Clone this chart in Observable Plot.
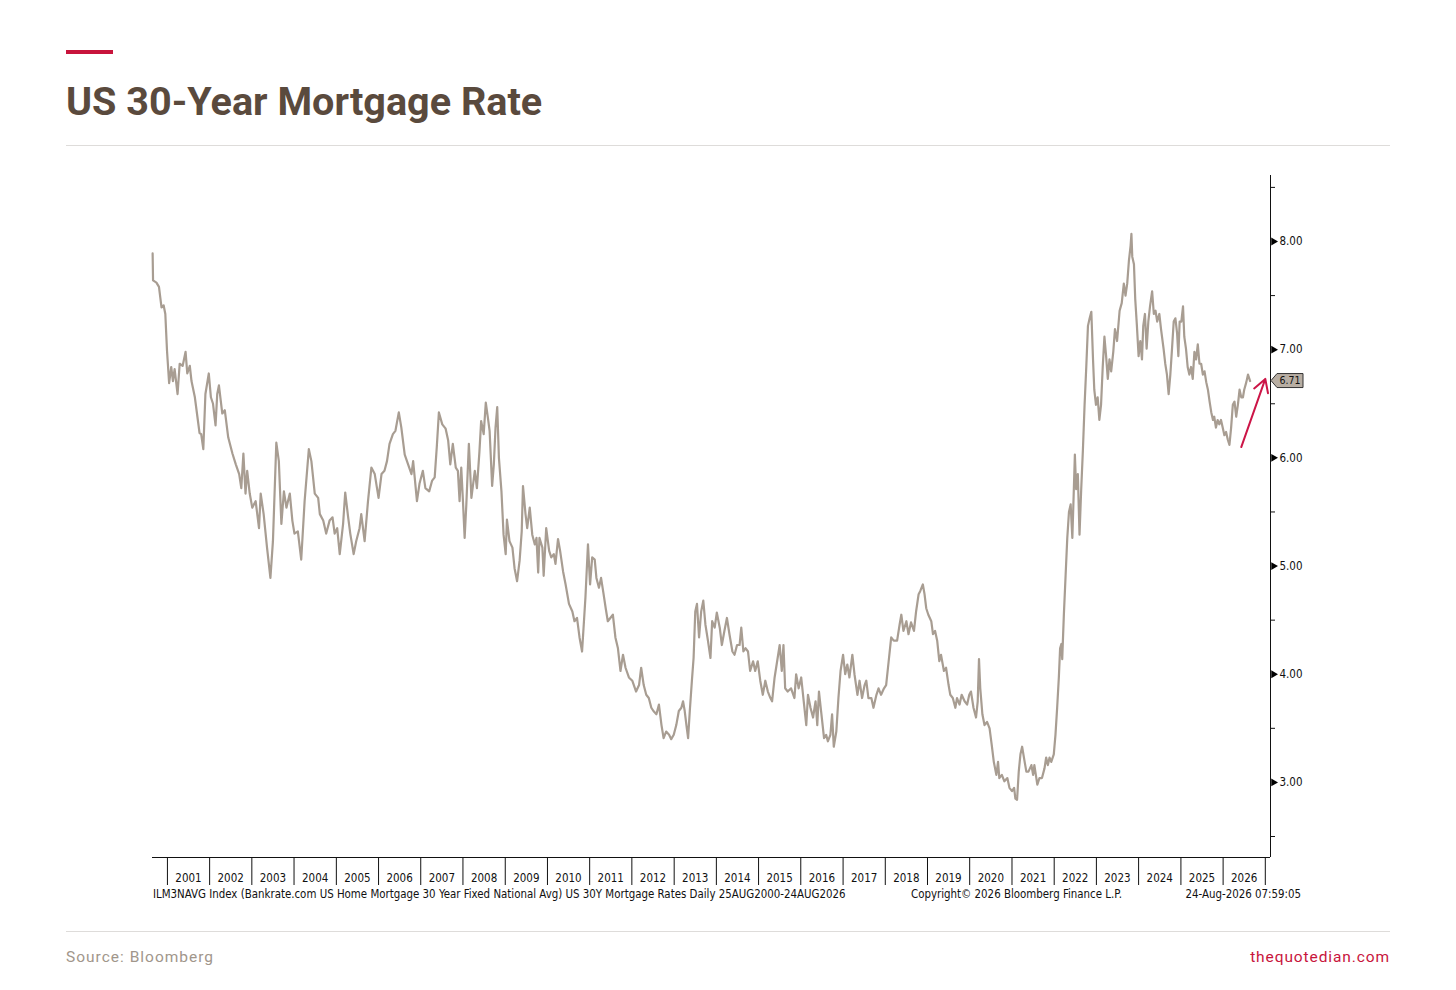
<!DOCTYPE html>
<html>
<head>
<meta charset="utf-8">
<script src="https://cdn.jsdelivr.net/npm/d3@7"></script>
<script src="https://cdn.jsdelivr.net/npm/@observablehq/plot@0.6"></script>
<style>
  html, body { margin: 0; padding: 0; background: #fff; }
  body { width: 1456px; height: 990px; position: relative; overflow: hidden; font-family: Roboto, "Noto Sans", sans-serif; }
  #bar { position: absolute; left: 66px; top: 50px; width: 47px; height: 4px; background: #c8143c; }
  #title { position: absolute; left: 66px; top: 82px; font: 700 39.6px/40px Roboto, sans-serif; color: #5a4a3d; white-space: nowrap; }
  .rule { position: absolute; left: 66px; width: 1324px; height: 1px; background: #dedcda; }
  #chart { position: absolute; left: 0; top: 160px; }
  .info { position: absolute; top: 888px; font: 11.4px/13px "DejaVu Sans Condensed", "DejaVu Sans", sans-serif; color: #111; white-space: nowrap; }
  .foot { position: absolute; top: 947px; font: 400 15.5px/20px Roboto, sans-serif; letter-spacing: 1px; white-space: nowrap; }
</style>
</head>
<body>
<div id="bar"></div>
<div id="title">US 30-Year Mortgage Rate</div>
<div class="rule" style="top:145px"></div>
<div id="chart"></div>
<div class="info" style="left:153px">ILM3NAVG Index (Bankrate.com US Home Mortgage 30 Year Fixed National Avg) US 30Y Mortgage Rates Daily 25AUG2000-24AUG2026</div>
<div class="info" style="left:911px">Copyright© 2026 Bloomberg Finance L.P.</div>
<div class="info" style="right:155px">24-Aug-2026 07:59:05</div>
<div class="rule" style="top:931px"></div>
<div class="foot" style="left:66px;color:#a1968b">Source: Bloomberg</div>
<div class="foot" style="right:66px;color:#c8143c;letter-spacing:0.9px">thequotedian.com</div>
<script>
// ---- data (decimal year, rate %) ----
const dates = [
  2000.65,2000.66,2000.74,2000.80,2000.86,2000.91,2000.95,2000.99,
  2001.04,2001.09,2001.13,2001.17,2001.24,2001.29,2001.36,2001.43,2001.47,2001.53,2001.57,2001.65,2001.70,2001.76,2001.80,2001.85,2001.90,2001.98,
  2002.03,2002.08,2002.14,2002.18,2002.22,2002.30,2002.36,2002.44,2002.54,2002.62,2002.70,2002.75,2002.80,2002.85,2002.89,2002.95,
  2003.01,2003.09,2003.17,2003.21,2003.28,2003.36,2003.44,2003.50,2003.58,2003.64,2003.70,2003.76,2003.82,2003.90,2003.96,
  2004.01,2004.09,2004.17,2004.25,2004.35,2004.41,2004.49,2004.57,2004.61,2004.69,2004.76,2004.84,2004.91,2004.96,
  2005.02,2005.08,2005.16,2005.21,2005.28,2005.33,2005.41,2005.47,2005.55,2005.59,2005.67,2005.75,2005.83,2005.91,
  2006.00,2006.07,2006.14,2006.20,2006.26,2006.34,2006.40,2006.48,2006.54,2006.62,2006.70,2006.78,2006.82,2006.91,2006.97,
  2007.05,2007.11,2007.20,2007.27,2007.33,2007.38,2007.43,2007.51,2007.59,2007.65,2007.70,2007.76,2007.83,2007.88,2007.92,2007.96,
  2008.00,2008.04,2008.08,2008.14,2008.20,2008.28,2008.33,2008.39,2008.43,2008.49,2008.54,2008.59,2008.63,2008.69,2008.73,2008.77,2008.81,2008.85,2008.91,2008.96,
  2009.01,2009.04,2009.10,2009.17,2009.22,2009.28,2009.34,2009.39,2009.42,2009.48,2009.52,2009.58,2009.64,2009.70,2009.74,2009.78,2009.81,2009.88,2009.91,2009.97,
  2010.04,2010.09,2010.15,2010.19,2010.25,2010.30,2010.37,2010.43,2010.51,2010.59,2010.64,2010.70,2010.76,2010.82,2010.86,2010.90,2010.96,
  2011.01,2011.06,2011.12,2011.16,2011.22,2011.27,2011.33,2011.38,2011.43,2011.49,2011.55,2011.61,2011.67,2011.73,2011.79,2011.85,2011.93,
  2012.01,2012.10,2012.17,2012.22,2012.28,2012.34,2012.40,2012.46,2012.51,2012.58,2012.64,2012.70,2012.75,2012.81,2012.88,2012.93,2012.99,
  2013.05,2013.11,2013.17,2013.21,2013.25,2013.29,2013.33,2013.37,2013.42,2013.46,2013.50,2013.54,2013.59,2013.64,2013.69,2013.74,2013.80,2013.86,2013.90,2013.96,
  2014.01,2014.08,2014.13,2014.19,2014.25,2014.31,2014.38,2014.43,2014.49,2014.55,2014.59,2014.64,2014.69,2014.75,2014.80,2014.87,2014.92,2014.98,
  2015.04,2015.10,2015.16,2015.22,2015.28,2015.32,2015.38,2015.44,2015.50,2015.55,2015.59,2015.63,2015.69,2015.77,2015.85,2015.89,2015.95,
  2016.01,2016.07,2016.13,2016.17,2016.23,2016.29,2016.35,2016.39,2016.43,2016.48,2016.55,2016.60,2016.64,2016.70,2016.74,2016.78,2016.84,2016.89,2016.94,
  2017.00,2017.05,2017.10,2017.15,2017.22,2017.27,2017.34,2017.39,2017.45,2017.51,2017.55,2017.60,2017.67,2017.72,2017.79,2017.84,2017.90,2017.97,
  2018.02,2018.08,2018.14,2018.20,2018.28,2018.34,2018.38,2018.43,2018.50,2018.55,2018.61,2018.68,2018.73,2018.79,2018.83,2018.89,2018.93,2018.97,
  2019.02,2019.09,2019.13,2019.18,2019.23,2019.28,2019.32,2019.39,2019.44,2019.50,2019.54,2019.60,2019.66,2019.70,2019.76,2019.81,2019.88,2019.94,2019.99,
  2020.03,2020.09,2020.15,2020.19,2020.22,2020.25,2020.30,2020.35,2020.41,2020.47,2020.52,2020.57,2020.63,2020.67,2020.70,2020.76,2020.82,2020.89,2020.94,
  2021.00,2021.05,2021.08,2021.12,2021.16,2021.20,2021.24,2021.30,2021.34,2021.39,2021.46,2021.50,2021.53,2021.60,2021.65,2021.71,2021.77,2021.81,2021.85,2021.89,2021.93,2021.99,
  2022.03,2022.07,2022.11,2022.14,2022.17,2022.19,2022.23,2022.27,2022.31,2022.35,2022.39,2022.43,2022.46,2022.49,2022.52,2022.56,2022.60,2022.64,2022.68,2022.72,2022.76,2022.80,2022.84,2022.88,2022.92,2022.95,2022.99,
  2023.03,2023.07,2023.11,2023.15,2023.19,2023.23,2023.27,2023.31,2023.35,2023.40,2023.44,2023.49,2023.55,2023.60,2023.65,2023.69,2023.73,2023.77,2023.81,2023.83,2023.85,2023.89,2023.92,2023.96,
  2024.00,2024.04,2024.08,2024.11,2024.15,2024.19,2024.23,2024.27,2024.32,2024.36,2024.40,2024.44,2024.49,2024.53,2024.59,2024.63,2024.67,2024.71,2024.75,2024.79,2024.83,2024.87,2024.91,2024.94,2024.97,
  2025.01,2025.05,2025.08,2025.12,2025.16,2025.20,2025.24,2025.28,2025.32,2025.36,2025.40,2025.44,2025.48,2025.52,2025.56,2025.60,2025.64,2025.68,2025.72,2025.76,2025.79,2025.83,2025.87,2025.91,2025.95,2025.99,
  2026.03,2026.07,2026.11,2026.15,2026.19,2026.23,2026.27,2026.31,2026.35,2026.39,2026.43,2026.47,2026.50,2026.55,2026.59,2026.64
];
const rates = [
  7.89,7.64,7.62,7.58,7.39,7.41,7.33,6.99,
  6.69,6.84,6.71,6.82,6.59,6.87,6.85,6.98,6.78,6.85,6.71,6.56,6.41,6.23,6.22,6.08,6.59,6.78,
  6.56,6.50,6.30,6.59,6.67,6.41,6.44,6.19,6.04,5.94,5.85,5.72,6.04,5.67,5.88,5.67,
  5.54,5.60,5.35,5.67,5.48,5.17,4.89,5.23,6.14,5.97,5.39,5.69,5.54,5.67,5.42,
  5.30,5.32,5.06,5.60,6.08,5.97,5.67,5.63,5.48,5.42,5.30,5.42,5.45,5.30,
  5.35,5.11,5.39,5.68,5.45,5.30,5.11,5.23,5.35,5.48,5.23,5.60,5.91,5.85,
  5.63,5.85,5.88,5.97,6.13,6.22,6.25,6.42,6.28,6.03,5.94,5.85,5.97,5.60,5.76,
  5.88,5.72,5.69,5.79,5.82,6.10,6.42,6.31,6.27,6.16,5.94,6.13,5.91,5.88,5.60,5.91,
  5.60,5.26,5.57,6.13,5.63,5.88,5.72,6.06,6.34,6.22,6.51,6.37,6.25,5.74,5.94,6.28,6.47,6.00,5.69,5.29,
  5.11,5.43,5.23,5.17,4.98,4.86,5.05,5.32,5.74,5.48,5.35,5.54,5.29,5.20,5.26,4.94,5.26,5.17,4.91,5.35,
  5.14,5.08,5.11,5.02,5.25,5.14,4.95,4.83,4.65,4.58,4.49,4.52,4.34,4.21,4.46,4.71,5.20,
  4.83,5.08,5.06,4.89,4.80,4.89,4.74,4.61,4.49,4.52,4.55,4.34,4.24,4.03,4.18,4.06,3.97,
  3.94,3.84,3.90,4.06,3.90,3.81,3.78,3.69,3.66,3.63,3.72,3.53,3.41,3.47,3.44,3.40,3.44,
  3.53,3.66,3.69,3.75,3.66,3.53,3.41,3.66,3.94,4.15,4.58,4.65,4.34,4.58,4.68,4.46,4.31,4.15,4.49,4.43,
  4.57,4.43,4.27,4.40,4.52,4.37,4.21,4.18,4.27,4.27,4.43,4.21,4.24,4.21,4.03,4.12,4.03,4.12,
  3.94,3.81,3.94,3.84,3.78,3.75,3.97,4.12,4.27,4.03,4.27,3.87,3.84,3.87,3.78,4.00,3.87,
  3.97,3.75,3.53,3.81,3.69,3.60,3.75,3.53,3.84,3.66,3.41,3.44,3.38,3.44,3.63,3.33,3.47,3.78,4.03,
  4.18,4.00,4.09,3.97,4.18,4.00,3.81,3.94,3.78,3.90,3.94,3.78,3.78,3.69,3.81,3.87,3.81,3.87,
  3.90,4.12,4.34,4.31,4.31,4.46,4.55,4.40,4.49,4.37,4.48,4.40,4.58,4.74,4.77,4.83,4.74,4.61,
  4.55,4.49,4.37,4.40,4.31,4.12,4.18,4.03,4.06,3.90,3.81,3.78,3.69,3.78,3.72,3.81,3.75,3.72,3.81,
  3.84,3.69,3.60,3.75,4.14,3.87,3.63,3.53,3.56,3.50,3.35,3.19,3.07,3.19,3.04,3.07,3.01,3.04,2.95,
  2.92,2.95,2.85,2.84,3.10,3.26,3.33,3.19,3.10,3.10,3.16,3.07,3.16,2.98,3.04,3.04,3.13,3.23,3.16,3.23,3.19,3.26,
  3.44,3.69,3.97,4.24,4.28,4.14,4.56,4.91,5.26,5.50,5.57,5.26,5.64,6.03,5.71,5.85,5.29,5.71,6.07,6.49,6.84,7.22,7.29,7.35,6.91,6.63,6.49,
  6.56,6.35,6.49,6.84,7.12,6.94,6.73,6.91,6.80,6.98,7.19,7.08,7.36,7.43,7.61,7.50,7.61,7.82,7.96,8.07,7.86,7.79,7.47,7.22,
  6.94,7.08,6.91,7.22,7.33,7.01,7.26,7.40,7.54,7.33,7.36,7.26,7.33,7.19,7.01,6.87,6.77,6.59,6.77,7.01,7.26,7.29,7.15,6.94,7.26,
  7.26,7.40,7.12,7.01,6.84,6.77,6.84,6.73,6.98,6.91,7.05,6.87,6.87,6.77,6.80,6.70,6.63,6.52,6.42,6.35,6.38,6.28,6.35,6.31,6.35,6.28,
  6.21,6.24,6.17,6.12,6.28,6.49,6.52,6.38,6.49,6.63,6.56,6.56,6.63,6.70,6.77,6.71
];
const yTicksMajor = [3, 4, 5, 6, 7, 8];
const yTicksMinor = [2.5, 3.5, 4.5, 5.5, 6.5, 7.5, 8.5];
const yearList = d3.range(2001, 2027);           // labelled years
const xDomainYears = [2000.647, 2027.123];        // Aug 2000 .. Feb 2027
const yDomain = [2.306, 8.61];
const arrowFrom = {year: 2026.43, rate: 6.10};
const arrowTo   = {year: 2027.00, rate: 6.73};

// ---- helpers ----
function toDate(y) {
  const yr = Math.floor(y);
  const a = Date.UTC(yr, 0, 1), b = Date.UTC(yr + 1, 0, 1);
  return new Date(a + (y - yr) * (b - a));
}
const data = dates.map((d, i) => ({date: toDate(d), rate: rates[i]}));
const yearStarts = d3.range(2001, 2028).map(y => new Date(Date.UTC(y, 0, 1)));
const yearMids = yearList.map(y => new Date(Date.UTC(y, 6, 2)));
const xEnd = toDate(xDomainYears[1]);
const lastRate = rates[rates.length - 1];

const plot = Plot.plot({
  width: 1456,
  height: 745,
  marginLeft: 152,
  marginRight: 186,
  marginTop: 15,
  marginBottom: 48,
  style: {fontFamily: "'DejaVu Sans Condensed', 'DejaVu Sans', sans-serif", fontSize: "11px", color: "#111", background: "transparent"},
  x: {type: "utc", domain: [toDate(xDomainYears[0]), xEnd], axis: null},
  y: {domain: yDomain, axis: null},
  marks: [
    Plot.ruleY([yDomain[0]], {stroke: "#111", strokeWidth: 1}),
    Plot.ruleX([xEnd], {stroke: "#111", strokeWidth: 1}),
    Plot.axisX(yearStarts, {tickSize: 28, tickFormat: () => "", stroke: "#111", label: null}),
    Plot.axisX(yearMids, {tickSize: 0, tickPadding: 16, tickFormat: d3.utcFormat("%Y"), fontSize: 11.5, label: null}),
    Plot.axisY(yTicksMinor, {anchor: "right", tickSize: 4, tickFormat: () => "", stroke: "#111", label: null}),
    Plot.axisY(yTicksMajor, {anchor: "right", tickSize: 0, tickPadding: 9, tickFormat: d3.format(".2f"), fontSize: 11.5, label: null}),
    Plot.dot(yTicksMajor, {y: d => d, frameAnchor: "right", symbol: "triangle", r: 2.9, rotate: 90, fill: "#000", stroke: null, dx: 3}),
    Plot.line(data, {x: "date", y: "rate", stroke: "#a89d92", strokeWidth: 2.2}),
    Plot.arrow([0], {x1: () => toDate(arrowFrom.year), y1: () => arrowFrom.rate, x2: () => toDate(arrowTo.year), y2: () => arrowTo.rate,
      stroke: "#cc1547", strokeWidth: 2, headLength: 11})
  ]
});
document.getElementById("chart").appendChild(plot);

// end-value tag on the right axis
const sx = plot.scale("x"), sy = plot.scale("y");
const xr = sx.apply(xEnd);
const yc = sy.apply(lastRate);
const svg = d3.select(plot);
const g = svg.append("g");
g.append("path")
  .attr("d", `M${xr + 1},${yc} L${xr + 7},${yc - 7} L${xr + 33},${yc - 7} L${xr + 33},${yc + 7} L${xr + 7},${yc + 7} Z`)
  .attr("fill", "#b8aea3").attr("stroke", "#333").attr("stroke-width", 1);
g.append("text")
  .attr("x", xr + 20).attr("y", yc).attr("dy", "0.35em").attr("text-anchor", "middle")
  .attr("font-size", 10.5).attr("fill", "#111")
  .text(d3.format(".2f")(lastRate));
</script>
</body>
</html>
